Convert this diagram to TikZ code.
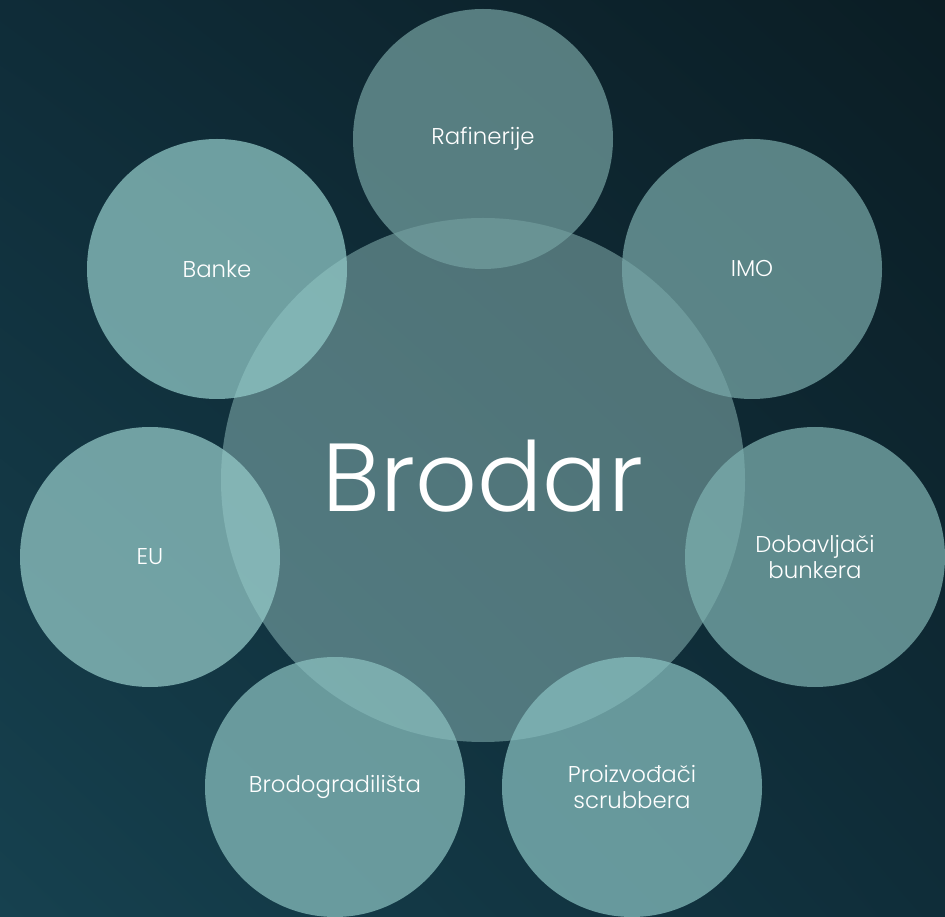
\documentclass[tikz,border=0pt]{standalone}
\usepackage{fontspec}
\setmainfont{Poppins}[UprightFont=* Light]
\usepackage{tikz}
\usetikzlibrary{shadings}

\definecolor{bgul}{HTML}{0F2C38}
\definecolor{bgur}{HTML}{0B1D24}
\definecolor{bgll}{HTML}{16414F}
\definecolor{bglr}{HTML}{0F2D39}
\definecolor{hubfill}{HTML}{98C6C4}
\definecolor{rafineriefill}{HTML}{74A0A0}
\definecolor{imofill}{HTML}{79A9A9}
\definecolor{bunkerfill}{HTML}{7FB2B1}
\definecolor{scrubberfill}{HTML}{89C1C1}
\definecolor{shipyardfill}{HTML}{8BC1C0}
\definecolor{eufill}{HTML}{97CCCA}
\definecolor{bankfill}{HTML}{94CCCA}

\tikzset{hub/.style={circle,fill=hubfill,fill opacity=0.48,text opacity=1,text=white,
                     minimum size=10.48cm,inner sep=0pt,font=\fontsize{55}{55}\selectfont}}
\tikzset{bubble/.style={circle,fill=#1,fill opacity=0.72,text opacity=1,text=white,
                        minimum size=5.2cm,inner sep=0pt,align=center,
                        font=\fontsize{13}{14.5}\selectfont}}

\begin{document}
\begin{tikzpicture}
        % background, lighter towards the lower left
        \shade[upper left=bgul,upper right=bgur,lower left=bgll,lower right=bglr] (0,0) rectangle (18.9,18.32);
        \useasboundingbox (0,0) rectangle (18.9,18.32);
        \node[hub] (brodar) at (9.66,8.72) {\raisebox{5pt}{Brodar}};
        \node[bubble=rafineriefill] (rafinerije) at (9.66,15.54) {Rafinerije};
        \node[bubble=imofill] (imo) at (15.04,12.94) {IMO};
        \node[bubble=bunkerfill] (bunker) at (16.30,7.18) {Dobavljači\\bunkera};
        \node[bubble=scrubberfill] (scrubber) at (12.64,2.58) {Proizvođači\\scrubbera};
        \node[bubble=shipyardfill] (brodogradiliste) at (6.70,2.58) {Brodogradilišta};
        \node[bubble=eufill] (eu) at (3.00,7.18) {EU};
        \node[bubble=bankfill] (banke) at (4.34,12.94) {Banke};
    \end{tikzpicture}
\end{document}
